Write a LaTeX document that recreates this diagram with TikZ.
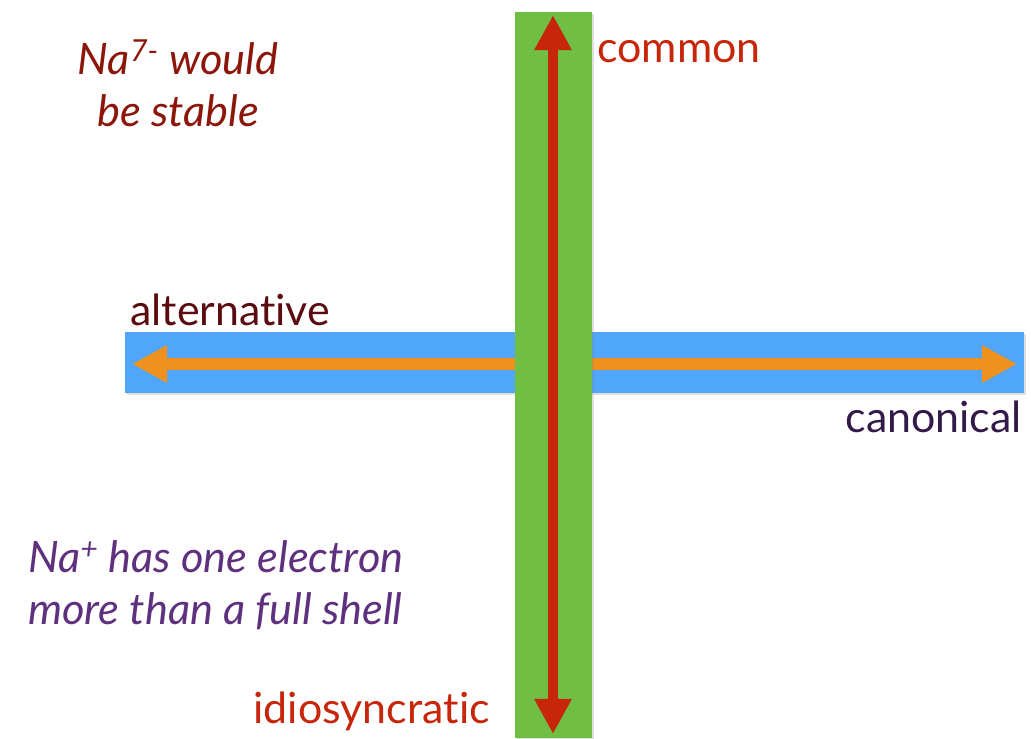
\documentclass[tikz,border=0pt]{standalone}
\usepackage{fontspec}
\setmainfont{Lato}[Ligatures={NoCommon}]
\usetikzlibrary{arrows.meta, shadows}
\usepackage{xcolor}
\definecolor{axisgreen}{RGB}{112,190,68}
\definecolor{axisblue}{RGB}{80,166,250}
\definecolor{axisorange}{RGB}{240,145,30}
\definecolor{axisred}{RGB}{200,38,10}
\definecolor{noteruby}{RGB}{140,22,10}
\definecolor{notemaroon}{RGB}{90,12,16}
\definecolor{noteplum}{RGB}{52,26,72}
\definecolor{notepurple}{RGB}{95,48,125}

\begin{document}
\begin{tikzpicture}[x=0.025cm, y=-0.025cm,
  bar/.style={fill=#1, drop shadow={opacity=0.25, shadow xshift=1.2pt, shadow yshift=-1.2pt}},
  label/.style={text=#1, inner sep=0pt, font=\fontsize{30.5}{37}\selectfont},
  note/.style={text=#1, inner sep=0pt, font=\fontsize{30.8}{37}\selectfont\itshape},
  head/.style={-{Triangle[length=25pt, width=25pt]}}]
  \useasboundingbox (0,0) rectangle (1031,738);
  % horizontal axis
  \path[bar=axisblue] (125,332) rectangle (1024,393);
  \coordinate (altend) at (132,364);
  \coordinate (canend) at (1017,364);
  \draw[axisorange, line width=8.5pt, {Triangle[length=25pt, width=25pt]}-{Triangle[length=25pt, width=25pt]}] (altend) -- (canend);
  % vertical axis
  \path[bar=axisgreen] (515,12) rectangle (592,738);
  \coordinate (comend) at (553,15);
  \coordinate (idiend) at (553,734);
  \draw[axisred, line width=7pt, {Triangle[length=25pt, width=25pt]}-{Triangle[length=25pt, width=25pt]}] (comend) -- (idiend);
  % axis labels
  \node[label=axisred, anchor=base west] (common) at (597,62) {common};
  \node[label=axisred, anchor=base east] (idio) at (490,723) {idiosyncratic};
  \node[label=notemaroon, anchor=base west] (alt) at (130,325) {alternative};
  \node[label=noteplum, anchor=base east] (canon) at (1022,432) {canonical};
  % notes
  \node[note=noteruby, align=center, anchor=north] (stable) at (178,40) {Na\textsuperscript{7-} would\\be stable};
  \node[note=notepurple, align=left, anchor=north west] (shell) at (28,540) {Na\textsuperscript{+} has one electron\\more than a full shell};
\end{tikzpicture}
\end{document}
